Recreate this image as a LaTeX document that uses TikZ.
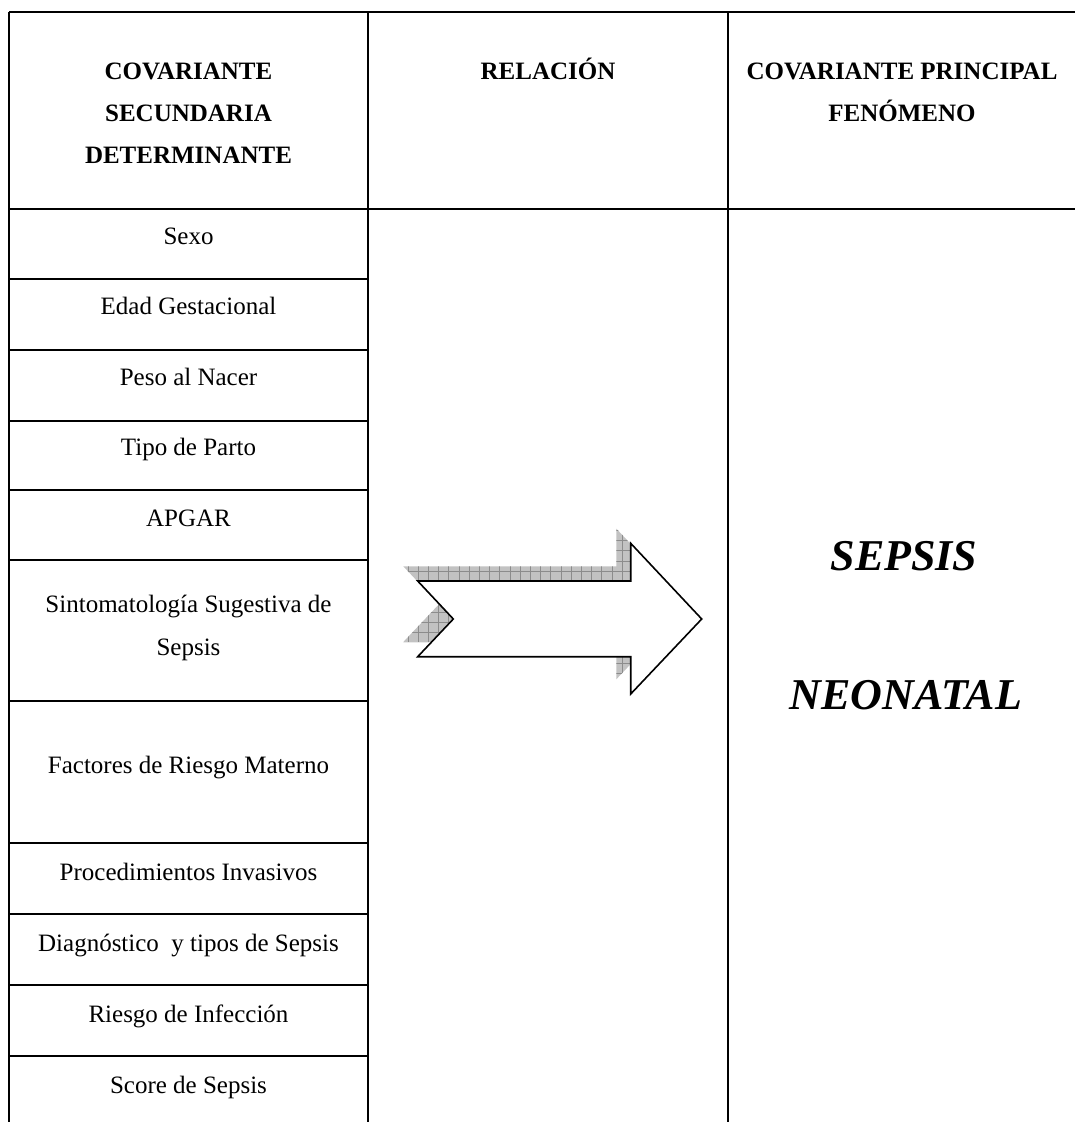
\documentclass[tikz,border=0pt]{standalone}
\usepackage{fontspec}
\setmainfont{Liberation Serif}
\begin{document}
\begin{tikzpicture}[x=0.5pt,y=-0.5pt,
  rule/.style={line width=1pt},
  thinrule/.style={line width=0.8pt},
  cell/.style={anchor=base, inner sep=0pt, font=\fontsize{12.5}{21.5}\selectfont},
  head/.style={anchor=base, inner sep=0pt, font=\fontsize{12.5}{21.5}\selectfont\bfseries},
  big/.style={anchor=base, inner sep=0pt, font=\fontsize{22}{26}\selectfont\bfseries\itshape},
  shadowfill/.style={fill=black!24},
  shadowgrid/.style={draw=black!45, line width=0.35pt},
  arrowshape/.style={draw=black, fill=white, line width=0.8pt, line join=miter}]
\useasboundingbox (0,0) rectangle (1075,1122);

% ---- table rules ----
\draw[rule] (9,12) -- (1075,12);
\draw[rule] (9,209) -- (1075,209);
\draw[rule] (9,12) -- (9,1122);
\draw[rule] (368,12) -- (368,1122);
\draw[rule] (728,12) -- (728,1122);
\foreach \yy in {279,350,421,490,560,701,843,914,985,1056}
  \draw[thinrule] (9,\yy) -- (368,\yy);

% ---- headers ----
\node[head] (h1a) at (188.5,80) {COVARIANTE};
\node[head] (h1b) at (188.5,122) {SECUNDARIA};
\node[head] (h1c) at (188.5,164) {DETERMINANTE};
\node[head] (h2) at (548,80) {RELACIÓN};
\node[head] (h3a) at (902,80) {COVARIANTE PRINCIPAL};
\node[head] (h3b) at (902,122) {FENÓMENO};

% ---- left column ----
\node[cell] (c1) at (188.5,245) {Sexo};
\node[cell] (c2) at (188.5,315) {Edad Gestacional};
\node[cell] (c3) at (188.5,386) {Peso al Nacer};
\node[cell] (c4) at (188.5,455) {Tipo de Parto};
\node[cell] (c5) at (188.5,526) {APGAR};
\node[cell] (c6a) at (188.5,612) {Sintomatología Sugestiva de};
\node[cell] (c6b) at (188.5,655) {Sepsis};
\node[cell] (c7) at (188.5,773) {Factores de Riesgo Materno};
\node[cell] (c8) at (188.5,880) {Procedimientos Invasivos};
\node[cell] (c9) at (188.5,951) {Diagnóstico\ \ y tipos de Sepsis};
\node[cell] (c10) at (188.5,1022) {Riesgo de Infección};
\node[cell] (c11) at (188.5,1093) {Score de Sepsis};

% ---- right column ----
\node[big] (s1) at (904,570) {SEPSIS};
\node[big] (s2) at (906,709) {NEONATAL};

% ---- block arrow with hatched shadow ----
\begin{scope}
  \clip (403.3,566.3) -- (616.3,566.3) -- (616.3,528.6) -- (687.3,604.3) -- (616.3,679.3)
        -- (616.3,642) -- (403.3,642) -- (438.9,604.3) -- cycle;
  \fill[shadowfill] (390,520) rectangle (700,700);
  \draw[shadowgrid, step=5.1pt] (392,520) grid (700,700);
\end{scope}
\path[arrowshape] (417.7,581) -- (630.7,581) -- (630.7,543.3) -- (701.7,619)
  -- (630.7,694) -- (630.7,656.7) -- (417.7,656.7) -- (453.3,619) -- cycle;
\end{tikzpicture}
\end{document}
